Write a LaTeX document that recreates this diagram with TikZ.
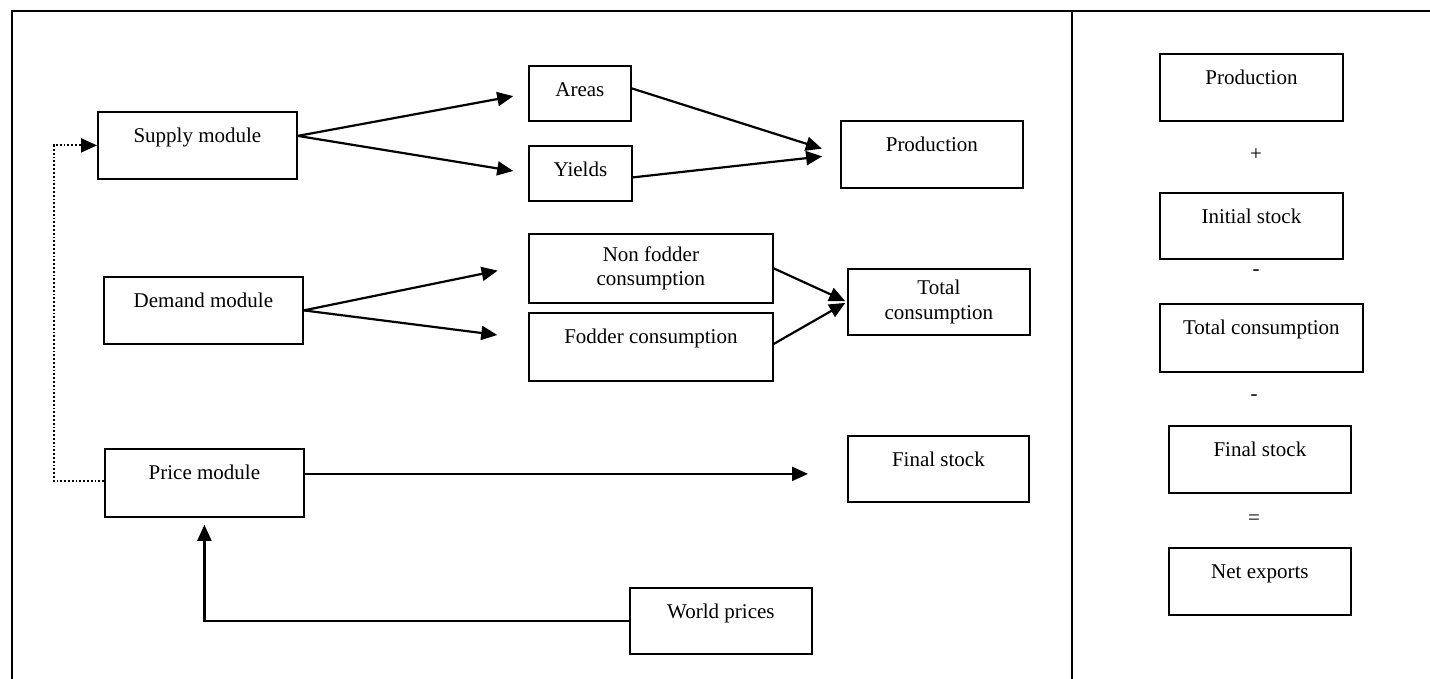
\documentclass[tikz,border=0pt]{standalone}
\usepackage{fontspec}
\setmainfont{Liberation Serif}
\usetikzlibrary{arrows.meta,calc}

\begin{document}
\begin{tikzpicture}[x=1pt,y=-1pt,
    font=\fontsize{21}{24.5}\selectfont,
    blk/.style 2 args={draw, line width=1.8pt, anchor=north west, inner sep=0pt,
        minimum width=#1, text height=31pt, text depth=#2},
    blk2/.style 2 args={draw, line width=1.8pt, anchor=north west, inner sep=0pt,
        minimum width=#1, minimum height=#2, align=center},
    arr/.style={line width=2.2pt, -{Triangle[length=16pt,width=14pt]}}]
    \useasboundingbox (0,0) rectangle (1430,679);
    % frame
    \draw [line width=2.6pt] (12,700) -- (12,11) -- (1440,11);
    \draw [line width=1.8pt] (1072,11) -- (1072,700);
    % left part
    \node (supply) [blk={199pt}{36pt}] at (97,111) {Supply module};
    \node (areas) [blk={102pt}{24pt}] at (528,65) {Areas};
    \node (yields) [blk={103pt}{24pt}] at (528,145) {Yields};
    \node (prod) [blk={182pt}{36pt}] at (840,120) {Production};
    \node (demand) [blk={199pt}{36pt}] at (103,276) {Demand module};
    \node (nonfod) [blk2={244pt}{69pt}] at (528,233) {Non fodder\\consumption};
    \node (fodder) [blk={244pt}{37pt}] at (528,312) {Fodder consumption};
    \node (totcons) [blk2={182pt}{66pt}] at (847,268) {Total\\consumption};
    \node (price) [blk={199pt}{37pt}] at (104,448) {Price module};
    \node (finstock) [blk={181pt}{35pt}] at (847,435) {Final stock};
    \node (world) [blk={182pt}{35pt}] at (629,587) {World prices};
    \draw [arr, shorten >=15pt] ([yshift=9.5pt]supply.east) -- (areas.west);
    \draw [arr, shorten >=15pt] ([yshift=9.5pt]supply.east) -- (yields.west);
    \draw [arr, shorten >=19pt] ([yshift=5pt]areas.east) -- (prod.west);
    \draw [arr, shorten >=18pt] ([yshift=-4pt]yields.east) -- (prod.west);
    \draw [arr, shorten >=31pt] (demand.east) -- ([yshift=4pt]nonfod.west);
    \draw [arr, shorten >=31pt] (demand.east) -- ([yshift=8pt]fodder.west);
    \draw [arr, shorten >=2pt] (nonfod.east) -- (totcons.west);
    \draw [arr, shorten >=2pt] ([yshift=3pt]fodder.east) -- (totcons.west);
    \draw [arr, shorten >=39pt] ([yshift=9pt]price.east) coordinate (pe) -- (pe -| finstock.west);
    \draw [arr, shorten >=7pt] (world.west) -| (price.south);
    \draw [dotted, line width=1.8pt, -{Triangle[length=16pt,width=14pt]}]
        ([yshift=2pt]price.west) -- ++(-50,0) |- (supply.west);
    % right part
    \node (rprod) [blk={183pt}{36pt}] at (1159,53) {Production};
    \node (plus) at (1256,155) {+};
    \node (rinit) [blk={183pt}{35pt}] at (1159,192) {Initial stock};
    \node (minusa) at (1256,273) {-};
    \node (rtot) [blk={203pt}{37pt}] at (1159,303) {Total consumption};
    \node (minusb) at (1254,398) {-};
    \node (rfin) [blk={182pt}{36pt}] at (1168,425) {Final stock};
    \node (equal) at (1254,520) {=};
    \node (rnet) [blk={182pt}{36pt}] at (1168,547) {Net exports};
\end{tikzpicture}
\end{document}
